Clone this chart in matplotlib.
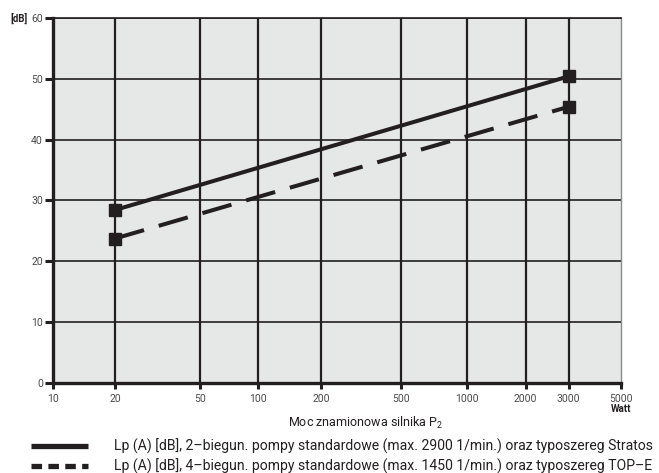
"""Noise level vs. motor power chart (Lp(A) for 2- and 4-pole pumps)."""

import numpy as np
import matplotlib

matplotlib.use("Agg")
import matplotlib.pyplot as plt
from matplotlib.lines import Line2D

# --- data -----------------------------------------------------------------
power_w = [20, 3000]
lp_2pole = [28.4, 50.4]
lp_4pole = [23.7, 45.4]

x_ticks = [10, 20, 50, 100, 200, 500, 1000, 2000, 3000, 5000]
x_grid = [20, 50, 100, 200, 500, 1000, 2000, 3000]
y_ticks = [0, 10, 20, 30, 40, 50, 60]

label_2pole = "Lp (A) [dB], 2–biegun. pompy standardowe (max. 2900 1/min.) oraz typoszereg Stratos"
label_4pole = "Lp (A) [dB], 4–biegun. pompy standardowe (max. 1450 1/min.) oraz typoszereg TOP–E"
x_label = "Moc znamionowa silnika P$_2$"

# the printed chart's power axis is only roughly logarithmic; fractions of axis width
x_tick_frac = [0.0, 0.1097, 0.2593, 0.3614, 0.4724, 0.6127, 0.7289, 0.8327, 0.9085, 1.0]

INK = "#231f20"
BG = "#e6e7e7"
TICK_TXT = "#4a4a4a"

plt.rcParams["font.family"] = ["Roboto", "DejaVu Sans"]
plt.rcParams["mathtext.default"] = "regular"

_log_ticks = np.log10(x_ticks)


def _fwd(x):
    x = np.clip(np.asarray(x, dtype=float), 1e-6, None)
    return np.interp(np.log10(x), _log_ticks, x_tick_frac, left=-1.0, right=2.0)


def _inv(f):
    return 10.0 ** np.interp(np.asarray(f, dtype=float), x_tick_frac, _log_ticks)


fig = plt.figure(figsize=(6.59, 4.73), dpi=100)
ax = fig.add_axes([52.7 / 659, 1 - 382.5 / 473, 568 / 659, 364.5 / 473])
ax.set_facecolor(BG)
ax.set_xscale("function", functions=(_fwd, _inv))
ax.set_xlim(10, 5000)
ax.set_ylim(0, 60)

for xv in x_grid:
    ax.axvline(xv, color=INK, lw=1.6, zorder=1)
for yv in y_ticks[1:]:
    ax.axhline(yv, color=INK, lw=1.2, zorder=1)

ax.plot(power_w, lp_2pole, color=INK, lw=2.9, marker="s", ms=8,
        solid_capstyle="butt", zorder=3)
ax.plot(power_w, lp_4pole, color=INK, lw=2.9, marker="s", ms=8,
        linestyle=(0, (7.5, 3.8)), dash_capstyle="butt", zorder=3)

ax.set_xticks(x_ticks)
ax.set_xticklabels([str(v) for v in x_ticks])
ax.xaxis.set_minor_locator(matplotlib.ticker.NullLocator())
ax.set_yticks(y_ticks)
ax.tick_params(axis="both", direction="out", colors=INK, labelcolor=TICK_TXT,
               labelsize=7.5)
ax.tick_params(axis="y", length=5.5, width=2.2, pad=1.5)
ax.tick_params(axis="x", length=4.5, width=2.2, pad=3.5)

for side in ("left", "bottom"):
    ax.spines[side].set_linewidth(2.4)
    ax.spines[side].set_color(INK)
ax.spines["top"].set_linewidth(1.2)
ax.spines["top"].set_color(INK)
ax.spines["right"].set_linewidth(1.0)
ax.spines["right"].set_color("#8a8a8a")

fig.text(10 / 659, 1 - 18 / 473, "[dB]", fontsize=7, fontweight="bold",
         color=INK, ha="left", va="center")
ax.annotate("Watt", xy=(5000, 0), xycoords=("data", "axes fraction"),
            xytext=(0, -15.5), textcoords="offset points", ha="center", va="top",
            fontsize=7, fontweight="bold", color=INK)
fig.text(366 / 659, 1 - 423 / 473, x_label, fontsize=9, color=INK,
         ha="center", va="center")

handles = [
    Line2D([], [], color=INK, lw=3.8, solid_capstyle="butt"),
    Line2D([], [], color=INK, lw=3.8, linestyle=(0, (2.0, 1.2)), dash_capstyle="butt"),
]
fig.legend(handles, [label_2pole, label_4pole], loc="upper left",
           bbox_to_anchor=(31 / 659, 1 - 439 / 473), frameon=False,
           fontsize=10.1, handlelength=4.05, handletextpad=1.85,
           labelspacing=0.33, borderpad=0, borderaxespad=0, labelcolor=INK)

fig.savefig("out.png", dpi=100, facecolor="white")
